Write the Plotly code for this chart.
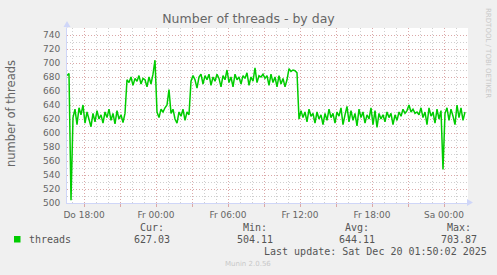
import plotly.graph_objects as go
import pandas as pd

# ---------------- data ----------------
start_time = "2025-12-18 16:35"
threads = [
    682, 685, 504, 622, 634, 612, 636, 626, 640, 614,
    630, 618, 609, 628, 616, 632, 620, 626, 614, 630,
    622, 634, 618, 628, 613, 632, 620, 626, 615, 628,
    676, 672, 680, 668, 678, 674, 682, 670, 678, 676,
    666, 680, 670, 684, 704, 630, 622, 634, 630, 636,
    640, 662, 628, 634, 620, 614, 630, 624, 634, 618,
    630, 626, 674, 682, 676, 664, 680, 684, 670, 682,
    676, 684, 668, 680, 674, 684, 678, 666, 682, 676,
    690, 672, 680, 666, 684, 676, 680, 670, 682, 678,
    686, 668, 680, 674, 693, 672, 682, 680, 684, 678,
    682, 668, 684, 672, 680, 666, 682, 670, 678, 666,
    676, 692, 688, 690, 689, 686, 620, 632, 622, 630,
    616, 634, 624, 628, 614, 630, 620, 626, 612, 628,
    618, 634, 622, 628, 614, 630, 624, 636, 612, 626,
    638, 616, 632, 618, 628, 610, 634, 622, 630, 614,
    626, 620, 636, 612, 632, 608, 628, 620, 626, 616,
    630, 622, 628, 612, 626, 618, 630, 624, 634, 628,
    632, 640, 630, 634, 628, 630, 626, 636, 622, 630,
    612, 636, 624, 630, 614, 634, 620, 632, 548, 628,
    636, 618, 634, 624, 612, 640, 622, 636, 618, 630,
]
times = pd.date_range(start_time, periods=len(threads), freq="10min")

x_range = ["2025-12-18 16:35", "2025-12-20 02:00"]
x_tick_times = [
    "2025-12-18 18:00", "2025-12-18 21:00", "2025-12-19 00:00", "2025-12-19 03:00",
    "2025-12-19 06:00", "2025-12-19 09:00", "2025-12-19 12:00", "2025-12-19 15:00",
    "2025-12-19 18:00", "2025-12-19 21:00", "2025-12-20 00:00",
]
x_tick_text = ["Do 18:00", "", "Fr 00:00", "", "Fr 06:00", "", "Fr 12:00", "",
               "Fr 18:00", "", "Sa 00:00"]
y_ticks = [500, 520, 540, 560, 580, 600, 620, 640, 660, 680, 700, 720, 740]
y_range = [500, 750]

title_text = "Number of threads - by day"
y_title = "number of threads"
series_name = "threads"
stat_labels = ["Cur:", "Min:", "Avg:", "Max:"]
stat_values = ["627.03", "504.11", "644.11", "703.87"]
last_update = "Last update: Sat Dec 20 01:50:02 2025"
footer = "Munin 2.0.56"
side_text = "RRDTOOL / TOBI OETIKER"

# ---------------- style ----------------
W, H = 497, 275
L, R, T, B = 67, 29, 28, 72
PW, PH = W - L - R, H - T - B
LINE_COLOR = "#00cc00"
FONT = "DejaVu Sans"
MONO = "DejaVu Sans Mono"
FONT_COLOR = "#666666"
AXIS_COLOR = "#cfd6f8"
MAJOR_GRID = "#dba8a8"
MINOR_GRID = "#cfcfcf"


def px(x):
    return (x - L) / PW


def py(y):
    return (H - B - y) / PH


fig = go.Figure()
fig.add_trace(go.Scatter(x=times, y=threads, mode="lines",
                         line=dict(color=LINE_COLOR, width=1.5),
                         showlegend=False, hoverinfo="skip"))

fig.update_layout(
    width=W, height=H,
    margin=dict(l=L, r=R, t=T, b=B),
    paper_bgcolor="#f0f0f0", plot_bgcolor="#ffffff",
    font=dict(family=FONT, size=9, color=FONT_COLOR),
    title=dict(text=title_text, x=248.5 / W, xanchor="center",
               y=1 - 19 / H, yanchor="middle",
               font=dict(family=FONT, size=12.5, color=FONT_COLOR)),
    showlegend=False,
)

fig.update_xaxes(
    type="date", range=x_range,
    tickvals=x_tick_times, ticktext=x_tick_text,
    ticks="outside", ticklen=3, tickcolor=MAJOR_GRID, tickwidth=1,
    showgrid=True, gridcolor=MAJOR_GRID, griddash="1px,2px", gridwidth=1,
    minor=dict(dtick=3600000, tick0="2025-12-18 17:00", showgrid=True,
               gridcolor=MINOR_GRID, griddash="1px,2px", gridwidth=1, ticks=""),
    showline=True, linecolor=AXIS_COLOR, linewidth=1,
    zeroline=False, tickfont=dict(family=FONT, size=9, color=FONT_COLOR),
)
fig.update_yaxes(
    range=y_range, tickvals=y_ticks,
    ticks="outside", ticklen=4, tickcolor="rgba(0,0,0,0)",
    showgrid=True, gridcolor=MAJOR_GRID, griddash="1px,2px", gridwidth=1,
    minor=dict(dtick=10, tick0=500, showgrid=True,
               gridcolor=MINOR_GRID, griddash="1px,2px", gridwidth=1, ticks=""),
    showline=True, linecolor=AXIS_COLOR, linewidth=1,
    zeroline=False, tickfont=dict(family=FONT, size=9, color=FONT_COLOR),
)

shapes = [
    # arrows on axes
    dict(type="path", xref="paper", yref="paper",
         path=f"M {px(473)} {py(202.5)} L {px(467)} {py(199)} L {px(467)} {py(206)} Z",
         fillcolor=AXIS_COLOR, line=dict(width=0)),
    dict(type="path", xref="paper", yref="paper",
         path=f"M {px(67)} {py(21)} L {px(63.5)} {py(27)} L {px(70.5)} {py(27)} Z",
         fillcolor=AXIS_COLOR, line=dict(width=0)),
    dict(type="line", xref="paper", yref="paper",
         x0=px(67), x1=px(67), y0=py(28), y1=py(24),
         line=dict(color=AXIS_COLOR, width=1)),
    # legend swatch
    dict(type="rect", xref="paper", yref="paper",
         x0=px(14), x1=px(20.5), y0=py(242.5), y1=py(236),
         fillcolor=LINE_COLOR, line=dict(width=0)),
]
fig.update_layout(shapes=shapes)

ann = []


def add_text(text, x, y, anchor="center", size=10, family=MONO, color="#555555", angle=0):
    ann.append(dict(text=text, x=px(x), y=py(y), xref="paper", yref="paper",
                    xanchor=anchor, yanchor="middle", showarrow=False,
                    textangle=angle, font=dict(family=family, size=size, color=color)))


add_text(y_title, 11, 114, family=FONT, size=11.5, color=FONT_COLOR, angle=-90)
add_text(series_name, 26.5, 239.3, anchor="left")
stat_centers = [151.7, 254.7, 357, 458.8]
for lab, val, cx in zip(stat_labels, stat_values, stat_centers):
    add_text(lab, cx, 227.7)
    add_text(val, cx, 239.3)
add_text(last_update, 261.5, 251, anchor="left")
add_text(footer, 248, 264, family=FONT, size=7, color="#c8c8c8")
add_text(side_text, 488, 53, family=FONT, size=7, color="#c8c8c8", angle=90)
fig.update_layout(annotations=ann)

fig.write_html("out.html")
